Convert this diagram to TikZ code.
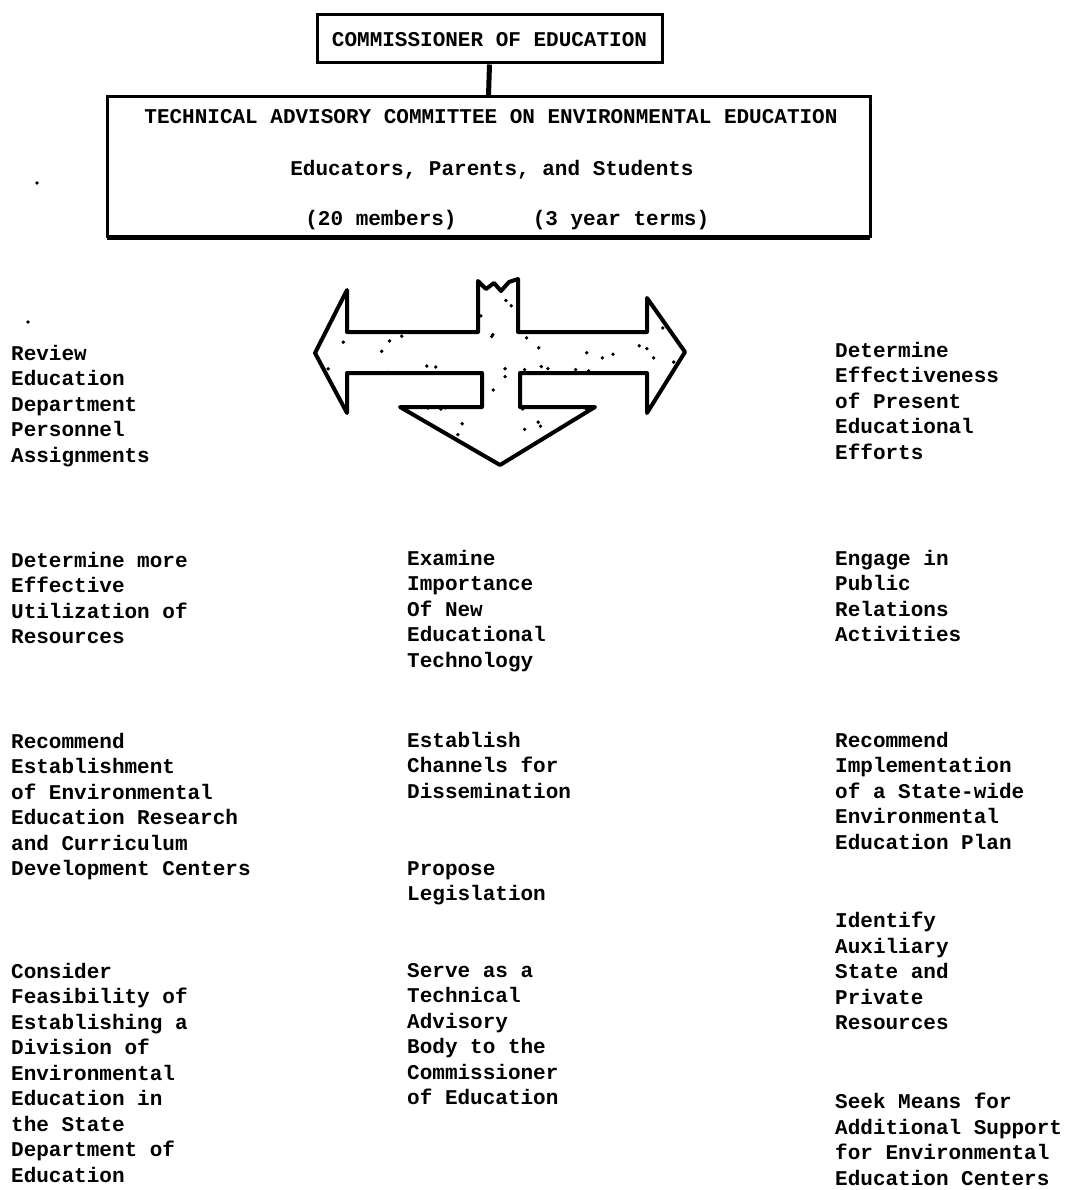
\documentclass[tikz,border=0pt]{standalone}
\usepackage{fontspec}
\setmonofont{Liberation Mono}
\begin{document}
\begin{tikzpicture}[x=1pt,y=-1pt,
  tw/.style={font=\ttfamily\bfseries\fontsize{21}{25.5}\selectfont, inner sep=0pt},
  item/.style={tw, align=left, anchor=north west},
  boxline/.style={draw=black, line width=3pt}]
\useasboundingbox (0,0) rectangle (1071,1190);
% boxes
\node[boxline, minimum width=345pt, minimum height=48pt, inner sep=0pt] (com) at (489.5,39) {};
\node[tw] (comtxt) at (489.5,40) {COMMISSIONER OF EDUCATION};
\node[boxline, minimum width=763pt, minimum height=140pt, inner sep=0pt] (tac) at (488.5,167) {};
\node[tw] (t1) at (491,117) {TECHNICAL ADVISORY COMMITTEE ON ENVIRONMENTAL EDUCATION};
\node[tw] (t2) at (492,170) {Educators, Parents, and Students};
\node[tw] (t3) at (381,220) {(20 members)};
\node[tw] (t4) at (621,220) {(3 year terms)};
\draw[line width=5pt] (com.south) -- (tac.north);
\draw[line width=2pt] (107,239) -- (870,239);
% triple arrow
\def\arrowpath{(315,353) -- (347,290) -- (347,332) -- (478,332) -- (478,281) -- (486,289) -- (494,283) -- (501,291) -- (509,282) -- (518,279) -- (518,332) -- (647,332) -- (647,298) -- (685,352) -- (647,413) -- (647,373) -- (520,373) -- (520,407) -- (595,407) -- (500,465) -- (400,407) -- (482,407) -- (482,373) -- (347,373) -- (347,413) -- cycle}
\fill[white] \arrowpath;
\begin{scope}
\clip \arrowpath;
\pgfmathsetseed{11}
\foreach \i in {1,...,120}{
  \pgfmathsetmacro\dx{315+370*rnd}
  \pgfmathsetmacro\dy{280+185*rnd}
  \fill (\dx,\dy) circle[radius=1.9pt];
}
\end{scope}
\draw[line width=4pt, line join=round] \arrowpath;
% stray specks
\fill (37,183) circle[radius=1.8pt];
\fill (28,322) circle[radius=1.8pt];
% left column
\node[item] (l1) at (11,345) {Review\\Education\\Department\\Personnel\\Assignments};
\node[item] (l2) at (11,552) {Determine more\\Effective\\Utilization of\\Resources};
\node[item] (l3) at (11,733) {Recommend\\Establishment\\of Environmental\\Education Research\\and Curriculum\\Development Centers};
\node[item] (l4) at (11,963) {Consider\\Feasibility of\\Establishing a\\Division of\\Environmental\\Education in\\the State\\Department of\\Education};
% middle column
\node[item] (m1) at (407,550) {Examine\\Importance\\Of New\\Educational\\Technology};
\node[item] (m2) at (407,732) {Establish\\Channels for\\Dissemination};
\node[item] (m3) at (407,861) {Propose\\Legislation};
\node[item] (m4) at (407,963) {Serve as a\\Technical\\Advisory\\Body to the\\Commissioner\\of Education};
% right column
\node[item] (r1) at (835,342) {Determine\\Effectiveness\\of Present\\Educational\\Efforts};
\node[item] (r2) at (835,550) {Engage in\\Public\\Relations\\Activities};
\node[item] (r3) at (835,732) {Recommend\\Implementation\\of a State-wide\\Environmental\\Education Plan};
\node[item] (r4) at (835,912) {Identify\\Auxiliary\\State and\\Private\\Resources};
\node[item] (r5) at (835,1093) {Seek Means for\\Additional Support\\for Environmental\\Education Centers};
\end{tikzpicture}
\end{document}
